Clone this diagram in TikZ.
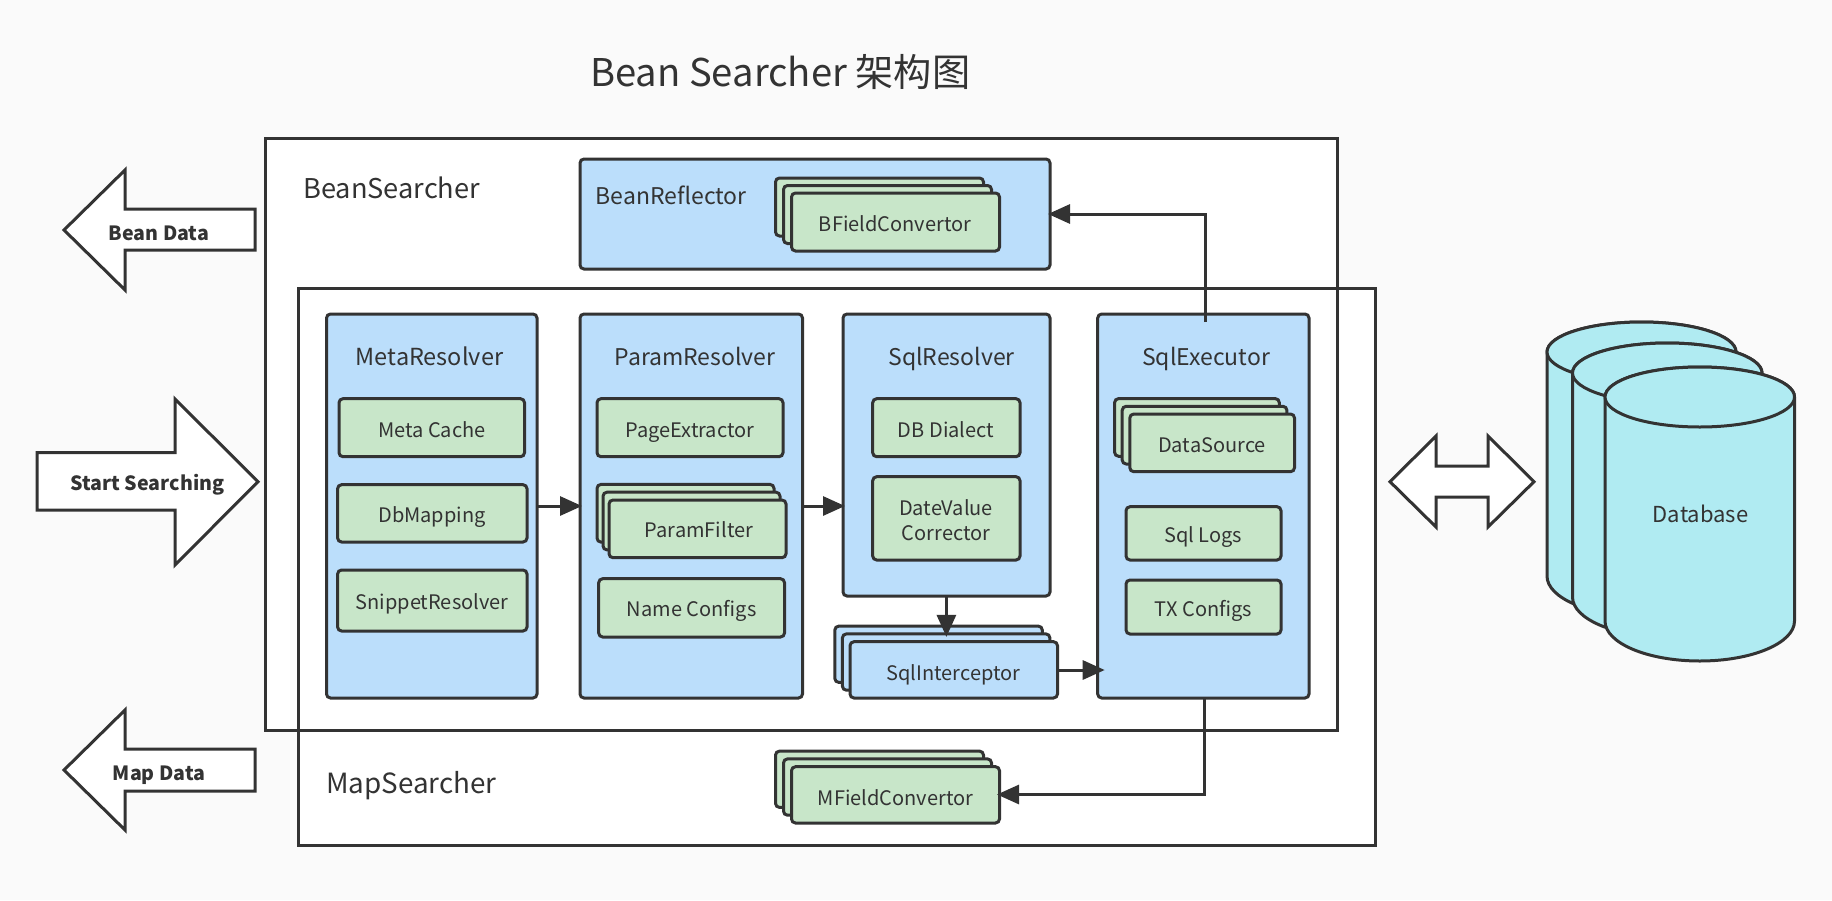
\documentclass[tikz,border=0pt]{standalone}
\usepackage{fontspec}
\setmainfont{Noto Sans CJK SC}
\usetikzlibrary{arrows.meta,calc}
\definecolor{ink}{HTML}{333333}
\definecolor{bluefill}{HTML}{BBDEFB}
\definecolor{greenfill}{HTML}{C8E6C9}
\definecolor{cyanfill}{HTML}{B0EBF2}
\definecolor{pagebg}{HTML}{FAFAFA}
\tikzset{
  x=1pt,y=-1pt,
  boxbase/.style={draw=ink,line width=3pt,rounded corners=4pt,inner sep=0pt,outer sep=0pt},
  bluebox/.style={boxbase,fill=bluefill},
  greenbox/.style={boxbase,fill=greenfill},
  frameline/.style={draw=ink,line width=3pt},
  blockarrow/.style={draw=ink,line width=3pt,fill=white,miter limit=10},
  conn/.style={draw=ink,line width=3pt,-{Triangle[length=22pt,width=19pt]}},
  cyl/.style={draw=ink,line width=3pt,fill=cyanfill},
  boxlabel/.style={font=\fontsize{20}{24}\selectfont,text=ink,inner sep=0pt,anchor=base},
  titlelabel/.style={font=\fontsize{23}{27}\selectfont,text=ink,inner sep=0pt,anchor=base},
  biglabel/.style={font=\fontsize{27.2}{32}\selectfont,text=ink,inner sep=0pt,anchor=base west},
  arrowlabel/.style={font=\fontsize{19.6}{23}\selectfont\bfseries,text=ink,inner sep=0pt,anchor=base},
}
% #1 name, #2 style, #3 x1, #4 y1, #5 x2, #6 y2
\newcommand{\bx}[6]{\path let \n1={(#5)-(#3)},\n2={(#6)-(#4)} in
  node[#2,minimum width=\n1*1pt,minimum height=\n2*1pt] (#1) at ({((#3)+(#5))/2},{((#4)+(#6))/2}) {};}
% stack of three boxes: #1 name, #2 style, #3 x of front left, #4 y of front top, #5 width, #6 height, #7 #8 offsets
\newcommand{\stackbx}[8]{
  \bx{#1c}{#2}{#3-2*#7}{#4-2*#8}{#3-2*#7+#5}{#4-2*#8+#6}
  \bx{#1b}{#2}{#3-#7}{#4-#8}{#3-#7+#5}{#4-#8+#6}
  \bx{#1}{#2}{#3}{#4}{#3+#5}{#4+#6}}
\newcommand{\cylinder}[5]{% name, left, right, top-centre y, bottom-centre y
  \coordinate (#1) at ({(#2+#3)/2},{(#4+#5)/2});
  \path[cyl] (#2,#4) -- (#2,#5) arc[start angle=180,end angle=0,x radius={(#3-#2)/2},y radius=40]
     -- (#3,#4) arc[start angle=0,end angle=-180,x radius={(#3-#2)/2},y radius=30] -- cycle;
  \path[cyl] (#2,#4) arc[start angle=180,end angle=540,x radius={(#3-#2)/2},y radius=30];}
\begin{document}
\begin{tikzpicture}
\useasboundingbox[fill=pagebg] (0,0) rectangle (1832,900);

\node[anchor=base west,font=\fontsize{38.2}{44}\selectfont,text=ink,inner sep=0pt] (title) at (590,86) {Bean Searcher 架构图};

% outer frames
\fill[white] (265,138.5) rectangle (1337.5,730.5);
\fill[white] (298.5,288.5) rectangle (1375.5,845.5);
\draw[frameline] (265,138.5) rectangle (1337.5,730.5);
\draw[frameline] (298.5,288.5) rectangle (1375.5,845.5);
\node[biglabel] (beanlabel) at (303,198) {BeanSearcher};
\node[biglabel,font=\fontsize{27.8}{32}\selectfont] (maplabel) at (326,793) {MapSearcher};

% bean reflector
\bx{reflector}{bluebox}{580}{159}{1050}{269}
\node[titlelabel,anchor=base west] (reflectort) at (595.5,204) {BeanReflector};
\stackbx{bconv}{greenbox}{791.5}{193}{208}{58}{8}{7.5}
\node[boxlabel] (bconvt) at (895,231.7) {BFieldConvertor};

% resolvers
\bx{meta}{bluebox}{326.5}{314}{537}{698}
\node[titlelabel,font=\fontsize{23.5}{28}\selectfont] (metat) at (429.5,365) {MetaResolver};
\bx{metacache}{greenbox}{339}{398.7}{524.5}{456.7}
\node[boxlabel] (metacachet) at (432,437) {Meta Cache};
\bx{dbmap}{greenbox}{337.6}{484.7}{527}{542}
\node[boxlabel] (dbmapt) at (432,522.7) {DbMapping};
\bx{snippet}{greenbox}{337.6}{570}{527}{631}
\node[boxlabel] (snippett) at (432,609) {SnippetResolver};

\bx{param}{bluebox}{580}{314}{802.5}{698}
\node[titlelabel] (paramt) at (695,365) {ParamResolver};
\bx{pageex}{greenbox}{597}{398.7}{783}{456.7}
\node[boxlabel] (pageext) at (690,437) {PageExtractor};
\stackbx{pfilter}{greenbox}{609}{500}{177}{57.7}{6}{7.8}
\node[boxlabel] (pfiltert) at (699,537.7) {ParamFilter};
\bx{nameconf}{greenbox}{598.7}{578.7}{784.5}{637}
\node[boxlabel] (nameconft) at (691.6,616.7) {Name Configs};

\bx{sqlres}{bluebox}{843}{314}{1050}{596}
\node[titlelabel] (sqlrest) at (951.5,365) {SqlResolver};
\bx{dialect}{greenbox}{872.7}{398.7}{1020}{456.7}
\node[boxlabel] (dialectt) at (946,437) {DB Dialect};
\bx{dateval}{greenbox}{872.7}{476.7}{1020}{560}
\node[boxlabel] (datevalt) at (946,515.7) {DateValue};
\node[boxlabel] (datevalu) at (946,540) {Corrector};
\stackbx{intercept}{bluebox}{850}{641.7}{207.5}{56.3}{7.6}{7.8}
\node[boxlabel] (interceptt) at (953.5,680) {SqlInterceptor};

\bx{sqlexec}{bluebox}{1097.7}{314}{1309}{698}
\node[titlelabel] (sqlexect) at (1206,365) {SqlExecutor};
\stackbx{dsource}{greenbox}{1129.8}{414}{164.7}{57.7}{7.6}{7.7}
\node[boxlabel] (dsourcet) at (1212,452) {DataSource};
\bx{sqllogs}{greenbox}{1126}{506.7}{1281}{560}
\node[boxlabel] (sqllogst) at (1203.4,542.7) {Sql Logs};
\bx{txconf}{greenbox}{1126}{580}{1281}{634}
\node[boxlabel] (txconft) at (1203.4,616.7) {TX Configs};

\stackbx{mconv}{greenbox}{791.5}{766.7}{208}{56.3}{8}{7.8}
\node[boxlabel] (mconvt) at (895.5,805) {MFieldConvertor};

% connectors
\coordinate (ya) at (0,506);
\coordinate (yb) at (0,670);
\coordinate (yc) at (0,214);
\coordinate (yd) at (0,794.5);
\coordinate (xa) at (946.4,0);
\coordinate (xb) at (1205.7,322);
\coordinate (xc) at (1204,0);
\draw[conn,shorten >=-2pt] (meta.east |- ya) -- (param.west |- ya);
\draw[conn,shorten >=-2pt] (param.east |- ya) -- (sqlres.west |- ya);
\draw[conn,shorten >=-3pt] (xa |- sqlres.south) -- (xa |- interceptb.north);
\draw[conn,shorten >=-7pt] (intercept.east |- yb) -- (sqlexec.west |- yb);
\draw[conn,shorten >=-2pt] (xb) -- (xb |- yc) -- (reflector.east |- yc);
\draw[conn,shorten >=-2.5pt] (xc |- sqlexec.south) -- (xc |- yd) -- (mconv.east |- yd);

% block arrows
\draw[blockarrow] (64,230) coordinate (beandata) -- (125,170) -- (125,209) -- (255,209) -- (255,250) -- (125,250) -- (125,290) -- cycle;
\node[arrowlabel] (beandatat) at (159,240) {Bean Data};
\draw[blockarrow] (64,770) coordinate (mapdata) -- (125,710) -- (125,749) -- (255,749) -- (255,791) -- (125,791) -- (125,830) -- cycle;
\node[arrowlabel] (mapdatat) at (159,780) {Map Data};
\draw[blockarrow] (258,481.7) coordinate (startsearch) -- (175,399) -- (175,452.7) -- (37,452.7) -- (37,510) -- (175,510) -- (175,565) -- cycle;
\node[arrowlabel] (startsearcht) at (147.5,490.7) {Start Searching};
\draw[blockarrow] (1390,481.7) coordinate (dbarrow) -- (1436,436) -- (1436,466) -- (1488,466) -- (1488,436) -- (1534,481.7) -- (1488,527) -- (1488,497) -- (1436,497) -- (1436,527) -- cycle;

% database
\cylinder{dba}{1547}{1736}{352}{576}
\cylinder{dbb}{1572.5}{1762}{373}{597}
\cylinder{dbc}{1605}{1794.5}{397}{621}
\node[boxlabel,font=\fontsize{22}{26}\selectfont] (dbt) at (1700.5,522.7) {Database};
\end{tikzpicture}
\end{document}
